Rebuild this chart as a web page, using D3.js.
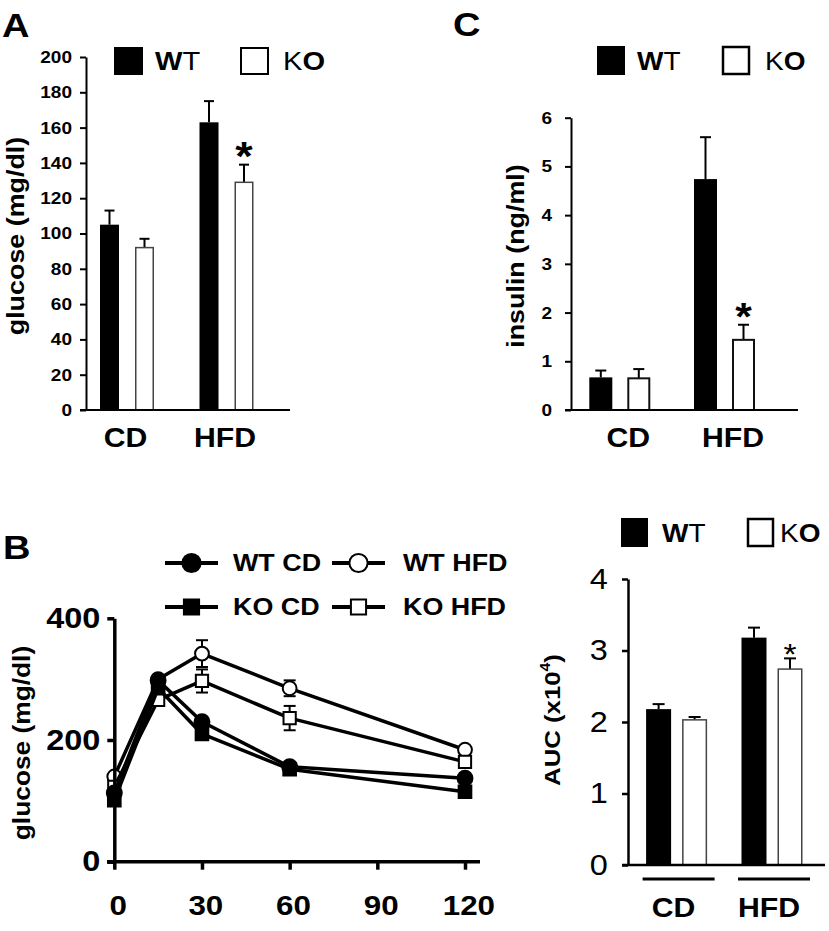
<!DOCTYPE html>
<html><head><meta charset="utf-8">
<script src="https://cdn.jsdelivr.net/npm/d3@7"></script>
<style>
body{margin:0;background:#fff}
svg{display:block}
text{font-family:"Liberation Sans",Arial,Helvetica,sans-serif;fill:#000}
</style>
</head><body>
<svg id="fig" width="829" height="931"></svg>
<script>
// ---------------- data ----------------
const groups = ["CD", "HFD"];
const genotypes = ["WT", "KO"];

// Panel A: fasting glucose
const glucoseTicks = [0, 20, 40, 60, 80, 100, 120, 140, 160, 180, 200];
const glucoseWT = [105, 163];
const glucoseWTErr = [8, 12];
const glucoseKO = [92, 129];
const glucoseKOErr = [5, 10];

// Panel C: insulin
const insulinTicks = [0, 1, 2, 3, 4, 5, 6];
const insulinWT = [0.67, 4.74];
const insulinWTErr = [0.14, 0.86];
const insulinKO = [0.65, 1.44];
const insulinKOErr = [0.19, 0.31];

// Panel B: GTT
const timeTicks = [0, 30, 60, 90, 120];
const gttTicks = [0, 200, 400];
const times = [0, 15, 30, 60, 120];
const wtCD = [113, 298, 230, 156, 137];
const wtCDErr = [5, 7, 7, 5, 5];
const koCD = [101, 285, 210, 152, 115];
const koCDErr = [4, 7, 7, 5, 5];
const wtHFD = [140, 300, 342, 285, 184];
const wtHFDErr = [5, 6, 22, 13, 6];
const koHFD = [123, 266, 297, 236, 164];
const koHFDErr = [5, 8, 19, 20, 7];

// Panel D: AUC
const aucTicks = [0, 1, 2, 3, 4];
const aucWT = [2.18, 3.18];
const aucWTErr = [0.07, 0.14];
const aucKO = [2.03, 2.74];
const aucKOErr = [0.04, 0.15];

// ---------------- helpers ----------------
const SX = 1.12;   // horizontal stretch of the original lettering
const svg = d3.select("#fig");

function label(g, x, y, str, size, weight, anchor, rotate) {
  return g.append("text")
    .attr("transform", `translate(${x},${y})${rotate ? " rotate(-90)" : ""} scale(${SX},1)`)
    .attr("text-anchor", anchor || "start")
    .attr("font-size", size)
    .attr("font-weight", weight || "bold")
    .text(str);
}

const wordWT = [["W", "bold"], ["T", "normal"]];
const wordKO = [["K", "normal"], ["O", "bold"]];
function mixedWord(g, x, y, parts, size) {
  const t = g.append("text")
    .attr("transform", `translate(${x},${y}) scale(${SX},1)`)
    .attr("font-size", size);
  parts.forEach(([s, w]) => t.append("tspan").attr("font-weight", w).text(s));
  return t;
}

function barLegend(g, o) {
  g.append("rect").attr("x", o.x1).attr("y", o.y).attr("width", o.w).attr("height", o.h).attr("fill", "#000");
  mixedWord(g, o.tx1, o.ty, wordWT, o.size);
  g.append("rect").attr("x", o.x2 + 1).attr("y", o.y + 1).attr("width", o.w - 2).attr("height", o.h - 2)
    .attr("fill", "#fff").attr("stroke", "#000").attr("stroke-width", o.sw);
  mixedWord(g, o.tx2, o.ty, wordKO, o.size);
}

function barPanel(o) {
  const g = svg.append("g");
  const y = d3.scaleLinear().domain(o.domain).range([o.y0, o.y1]);
  const x0 = d3.scalePoint().domain(groups).range(o.groupX);
  const x1 = d3.scalePoint().domain(genotypes).range([-o.off, o.off]);
  const series = [
    {key: "WT", vals: o.wt, errs: o.wtErr},
    {key: "KO", vals: o.ko, errs: o.koErr}
  ];
  const rows = [];
  series.forEach(s => groups.forEach((grp, i) => rows.push({grp, key: s.key, v: s.vals[i], e: s.errs[i]})));
  const cx = d => x0(d.grp) + x1(d.key);

  // error bars (upper only)
  const eb = g.append("g").attr("stroke", "#000").attr("stroke-width", o.errW);
  eb.selectAll("line.v").data(rows).join("line")
    .attr("x1", cx).attr("x2", cx).attr("y1", d => y(d.v)).attr("y2", d => y(d.v + d.e));
  eb.selectAll("line.c").data(rows).join("line")
    .attr("x1", d => cx(d) - o.cap / 2).attr("x2", d => cx(d) + o.cap / 2)
    .attr("y1", d => y(d.v + d.e)).attr("y2", d => y(d.v + d.e));

  // bars
  g.selectAll("rect.bar").data(rows).join("rect")
    .attr("x", d => cx(d) - o.bw / 2 + (d.key === "KO" ? o.koSW / 2 : 0))
    .attr("y", d => y(d.v))
    .attr("width", d => o.bw - (d.key === "KO" ? o.koSW : 0))
    .attr("height", d => y(0) - y(d.v))
    .attr("fill", d => d.key === "WT" ? "#000" : "#fff")
    .attr("stroke", d => d.key === "WT" ? "none" : o.koStroke)
    .attr("stroke-width", o.koSW);

  // y axis
  const ax = g.append("g").attr("transform", `translate(${o.axisX},0)`)
    .call(d3.axisLeft(y).tickValues(o.ticks).tickFormat(d3.format("d"))
      .tickSize(o.tickSize).tickSizeOuter(0).tickPadding(o.pad));
  ax.select(".domain").attr("stroke", "#000").attr("stroke-width", o.axisW);
  ax.selectAll(".tick line").attr("stroke", "#000").attr("stroke-width", o.axisW);
  ax.selectAll(".tick text")
    .attr("font-family", null)
    .attr("font-size", o.tickFont)
    .attr("font-weight", o.tickWeight)
    .attr("transform", `scale(${SX},1)`);
  ax.attr("font-family", null).attr("font-size", null);

  // baseline
  g.append("line").attr("x1", o.baseX0).attr("x2", o.baseX1)
    .attr("y1", y(0)).attr("y2", y(0)).attr("stroke", "#000").attr("stroke-width", o.axisW);

  // group underlines (optional)
  if (o.underline) {
    groups.forEach(grp => {
      g.append("line").attr("x1", x0(grp) - o.underline.half).attr("x2", x0(grp) + o.underline.half + 4)
        .attr("y1", o.underline.y).attr("y2", o.underline.y)
        .attr("stroke", "#000").attr("stroke-width", 3);
    });
  }

  // category labels
  groups.forEach(grp => label(g, x0(grp) + o.catShift, o.catY, grp, o.catFont, "bold", "middle"));

  // significance star on KO HFD
  const last = rows.find(d => d.key === "KO" && d.grp === "HFD");
  label(g, cx(last), y(last.v + last.e) + o.starDy, "*", o.starFont, o.starWeight, "middle");

  return {g, y};
}

// ---------------- Panel A ----------------
const A = barPanel({
  domain: [0, 200], y0: 410, y1: 57, groupX: [127, 226.5], off: 17.5, bw: 19,
  wt: glucoseWT, wtErr: glucoseWTErr, ko: glucoseKO, koErr: glucoseKOErr,
  errW: 2, cap: 10, koStroke: "#444", koSW: 1.5,
  axisX: 86, ticks: glucoseTicks, tickSize: 6, pad: 6.5, axisW: 2,
  tickFont: 17, tickWeight: "bold", baseX0: 80, baseX1: 290,
  catY: 447, catFont: 27, catShift: -1.5,
  starDy: 5, starFont: 40, starWeight: "bold"
});
label(A.g, 2, 37, "A", 34, "bold");
label(A.g, 24, 236, "glucose (mg/dl)", 24, "bold", "middle", true);
barLegend(A.g, {x1: 114, x2: 240, y: 47, w: 29, h: 28, sw: 2, tx1: 155, tx2: 283, ty: 70, size: 26});

// ---------------- Panel C ----------------
const C = barPanel({
  domain: [0, 6], y0: 410, y1: 117.7, groupX: [619.8, 724.5], off: 19, bw: 23,
  wt: insulinWT, wtErr: insulinWTErr, ko: insulinKO, koErr: insulinKOErr,
  errW: 2, cap: 11, koStroke: "#111", koSW: 2,
  axisX: 571, ticks: insulinTicks, tickSize: 6, pad: 11, axisW: 2,
  tickFont: 17, tickWeight: "bold", baseX0: 565, baseX1: 798,
  catY: 447, catFont: 27, catShift: 8.5,
  starDy: 5, starFont: 38, starWeight: "bold"
});
label(C.g, 453, 36, "C", 34, "bold");
label(C.g, 524, 256, "insulin (ng/ml)", 24, "bold", "middle", true);
barLegend(C.g, {x1: 597, x2: 722, y: 46, w: 28, h: 29, sw: 2.5, tx1: 637, tx2: 765, ty: 70, size: 25});

// ---------------- Panel D ----------------
const D = barPanel({
  domain: [0, 4], y0: 865, y1: 579, groupX: [676.6, 772], off: 18, bw: 25,
  wt: aucWT, wtErr: aucWTErr, ko: aucKO, koErr: aucKOErr,
  errW: 2, cap: 12, koStroke: "#444", koSW: 1.5,
  axisX: 628, ticks: aucTicks, tickSize: 6, pad: 12, axisW: 2.5,
  tickFont: 29, tickWeight: "normal", baseX0: 622, baseX1: 825,
  underline: {y: 879, half: 34},
  catY: 917, catFont: 27, catShift: -3,
  starDy: 6, starFont: 30, starWeight: "normal"
});
{
  const t = D.g.append("text")
    .attr("transform", `translate(560,720) rotate(-90) scale(${SX},1)`)
    .attr("text-anchor", "middle").attr("font-size", 23).attr("font-weight", "bold");
  t.append("tspan").text("AUC (x10");
  t.append("tspan").attr("font-size", 14).attr("dy", -10).text("4");
  t.append("tspan").attr("dy", 10).text(")");
}
barLegend(D.g, {x1: 621, x2: 747, y: 518, w: 27, h: 29, sw: 2.5, tx1: 662, tx2: 780, ty: 542, size: 25});

// ---------------- Panel B ----------------
const gB = svg.append("g");
const xB = d3.scaleLinear().domain([0, 120]).range([114.3, 465]);
const yB = d3.scaleLinear().domain([0, 400]).range([861.7, 618.3]);

const seriesB = [
  {name: "WT HFD", vals: wtHFD, errs: wtHFDErr, shape: d3.symbolCircle, area: 150, fill: "#fff"},
  {name: "KO HFD", vals: koHFD, errs: koHFDErr, shape: d3.symbolSquare, area: 150, fill: "#fff"},
  {name: "KO CD", vals: koCD, errs: koCDErr, shape: d3.symbolSquare, area: 160, fill: "#000"},
  {name: "WT CD", vals: wtCD, errs: wtCDErr, shape: d3.symbolCircle, area: 175, fill: "#000"}
];
const lineGen = d3.line().x(d => xB(d.t)).y(d => yB(d.v));

seriesB.forEach(s => {
  const pts = times.map((t, i) => ({t, v: s.vals[i], e: s.errs[i]}));
  const sg = gB.append("g");
  sg.append("path").datum(pts).attr("d", lineGen)
    .attr("fill", "none").attr("stroke", "#000").attr("stroke-width", 3.5).attr("stroke-linejoin", "round");
  const eg = sg.append("g").attr("stroke", "#000").attr("stroke-width", 2);
  eg.selectAll("line.v").data(pts).join("line")
    .attr("x1", d => xB(d.t)).attr("x2", d => xB(d.t))
    .attr("y1", d => yB(d.v - d.e)).attr("y2", d => yB(d.v + d.e));
  eg.selectAll("line.u").data(pts).join("line")
    .attr("x1", d => xB(d.t) - 6).attr("x2", d => xB(d.t) + 6)
    .attr("y1", d => yB(d.v + d.e)).attr("y2", d => yB(d.v + d.e));
  eg.selectAll("line.l").data(pts).join("line")
    .attr("x1", d => xB(d.t) - 6).attr("x2", d => xB(d.t) + 6)
    .attr("y1", d => yB(d.v - d.e)).attr("y2", d => yB(d.v - d.e));
  sg.selectAll("path.m").data(pts).join("path")
    .attr("transform", d => `translate(${xB(d.t)},${yB(d.v)})`)
    .attr("d", d3.symbol(s.shape, s.area))
    .attr("fill", s.fill).attr("stroke", "#000").attr("stroke-width", 2);
});

// axes B
const axYB = gB.append("g").attr("transform", `translate(${xB(0)},0)`)
  .call(d3.axisLeft(yB).tickValues(gttTicks).tickSize(7).tickSizeOuter(0).tickPadding(5.5));
axYB.select(".domain").attr("stroke", "#000").attr("stroke-width", 3.5);
axYB.selectAll(".tick line").attr("stroke", "#000").attr("stroke-width", 3.5);
axYB.selectAll(".tick text").attr("font-family", null).attr("font-size", 29).attr("font-weight", "bold")
  .attr("transform", `scale(${SX},1)`);
axYB.attr("font-family", null).attr("font-size", null);

const axXB = gB.append("g").attr("transform", `translate(0,${yB(0)})`)
  .call(d3.axisBottom(xB).tickValues(timeTicks).tickSize(8).tickSizeOuter(0));
axXB.select(".domain").remove();
axXB.selectAll(".tick line").attr("stroke", "#000").attr("stroke-width", 3.5);
axXB.selectAll(".tick text").attr("font-family", null).attr("font-size", 28).attr("font-weight", "bold")
  .attr("y", 53).attr("dy", 0).attr("x", 3).attr("transform", `scale(${SX},1)`);
axXB.attr("font-family", null).attr("font-size", null);
gB.append("line").attr("x1", 107).attr("x2", 480).attr("y1", yB(0)).attr("y2", yB(0))
  .attr("stroke", "#000").attr("stroke-width", 3.5);

label(gB, 3, 559, "B", 34, "bold");
label(gB, 30, 743, "glucose (mg/dl)", 23.5, "bold", "middle", true);

// legend B
const legendB = [
  {s: seriesB[3], lx: 165, y: 563, tx: 233, ty: 571},
  {s: seriesB[0], lx: 332, y: 563, tx: 403, ty: 571},
  {s: seriesB[2], lx: 165, y: 607, tx: 233, ty: 615},
  {s: seriesB[1], lx: 332, y: 607, tx: 403, ty: 615}
];
legendB.forEach(L => {
  gB.append("line").attr("x1", L.lx).attr("x2", L.lx + 53).attr("y1", L.y).attr("y2", L.y)
    .attr("stroke", "#000").attr("stroke-width", 4);
  gB.append("path").attr("transform", `translate(${L.lx + 26.5},${L.y})`)
    .attr("d", d3.symbol(L.s.shape, L.s.shape === d3.symbolCircle ? 260 : 230))
    .attr("fill", L.s.fill).attr("stroke", "#000").attr("stroke-width", 2);
  label(gB, L.tx, L.ty, L.s.name, 24, "bold");
});
</script>
</body></html>
